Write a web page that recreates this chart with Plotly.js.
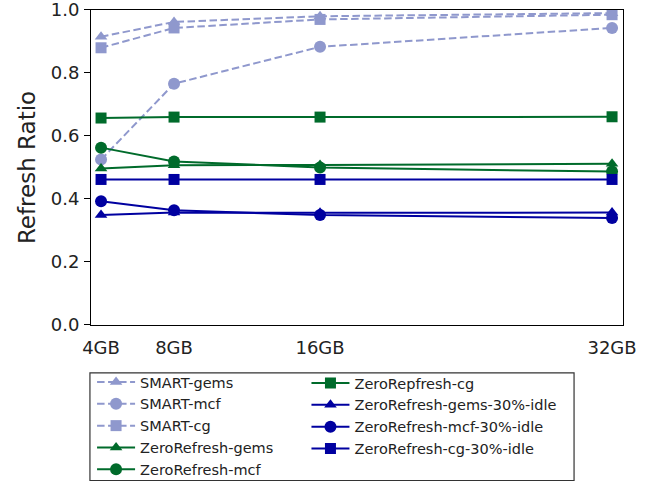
<!DOCTYPE html>
<html>
<head>
<meta charset="utf-8">
<script src="https://cdn.plot.ly/plotly-3.0.1.min.js"></script>
<style>html,body{margin:0;padding:0;background:#fff;}#chart{width:657px;height:486px;}</style>
</head>
<body>
<div id="chart"></div>
<script>
const sizesGB = [4, 8, 16, 32];
const tickLabels = ['4GB', '8GB', '16GB', '32GB'];

const smartGems = [0.915, 0.962, 0.980, 0.990];
const smartMcf  = [0.525, 0.766, 0.883, 0.943];
const smartCg   = [0.880, 0.943, 0.970, 0.985];
const zrGems    = [0.497, 0.507, 0.508, 0.512];
const zrMcf     = [0.563, 0.519, 0.500, 0.487];
const zrCg      = [0.657, 0.660, 0.660, 0.661];
const zrGemsIdle = [0.349, 0.357, 0.356, 0.357];
const zrMcfIdle  = [0.393, 0.364, 0.349, 0.340];
const zrCgIdle   = [0.462, 0.462, 0.462, 0.462];

const cSmart = '#8f98cd';
const cGreen = '#006b2b';
const cBlue  = '#0000a0';
const symSize = {'triangle-up': 11, 'circle': 12, 'square': 11};

function tr(name, y, color, symbol, dash, legend) {
  return {
    x: sizesGB, y: y, name: name, type: 'scatter', mode: 'lines+markers',
    line: {color: color, width: 2, dash: dash},
    marker: {color: color, symbol: symbol, size: symSize[symbol]},
    legend: legend
  };
}

const DASH = '7.5px,3.5px';
const data = [
  tr('SMART-gems', smartGems, cSmart, 'triangle-up', DASH, 'legend'),
  tr('SMART-mcf', smartMcf, cSmart, 'circle', DASH, 'legend'),
  tr('SMART-cg', smartCg, cSmart, 'square', DASH, 'legend'),
  tr('ZeroRefresh-gems', zrGems, cGreen, 'triangle-up', 'solid', 'legend'),
  tr('ZeroRefresh-mcf', zrMcf, cGreen, 'circle', 'solid', 'legend'),
  tr('ZeroRepfresh-cg', zrCg, cGreen, 'square', 'solid', 'legend2'),
  tr('ZeroRefresh-gems-30%-idle', zrGemsIdle, cBlue, 'triangle-up', 'solid', 'legend2'),
  tr('ZeroRefresh-mcf-30%-idle', zrMcfIdle, cBlue, 'circle', 'solid', 'legend2'),
  tr('ZeroRefresh-cg-30%-idle', zrCgIdle, cBlue, 'square', 'solid', 'legend2')
];

const font = {family: 'DejaVu Sans', size: 18, color: '#222'};
const legFont = {family: 'DejaVu Sans', size: 14.5, color: '#222'};

const layout = {
  width: 657, height: 486,
  margin: {l: 91, r: 34, t: 0, b: 160},
  paper_bgcolor: '#fff', plot_bgcolor: '#fff',
  font: font,
  showlegend: true,
  xaxis: {
    range: [3.45, 32.6], tickvals: sizesGB, ticktext: tickLabels,
    showgrid: false, zeroline: false, showline: true, mirror: true,
    linecolor: '#000', linewidth: 1, ticks: '', ticklabelstandoff: 6,
    tickfont: font, automargin: false, ticklabeloverflow: 'allow'
  },
  yaxis: {
    domain: [0, 0.9693],
    range: [0, 1], dtick: 0.2, tickformat: '.1f',
    showgrid: false, zeroline: false, showline: true, mirror: true,
    linecolor: '#000', linewidth: 1, ticks: 'outside', ticklen: 6, tickcolor: '#000',
    tickfont: font, automargin: false, ticklabelstandoff: 1, ticklabeloverflow: 'allow',
    title: {text: 'Refresh Ratio', font: {family: 'DejaVu Sans', size: 23, color: '#222'}, standoff: 8}
  },
  legend: {
    x: 0.002, y: -0.1258, xanchor: 'left', yanchor: 'top', orientation: 'v',
    bgcolor: 'rgba(0,0,0,0)', font: legFont, itemwidth: 38
  },
  legend2: {
    x: 0.405, y: -0.1258, xanchor: 'left', yanchor: 'top', orientation: 'v',
    bgcolor: 'rgba(0,0,0,0)', font: legFont, itemwidth: 38
  },
  shapes: [{
    type: 'rect', xref: 'paper', yref: 'paper',
    x0: -0.002, x1: 0.908, y0: -0.4785, y1: -0.1472,
    line: {color: '#333', width: 1.2}, fillcolor: 'rgba(0,0,0,0)', layer: 'below'
  }]
};

Plotly.newPlot('chart', data, layout, {displayModeBar: false, staticPlot: true});
</script>
</body>
</html>
